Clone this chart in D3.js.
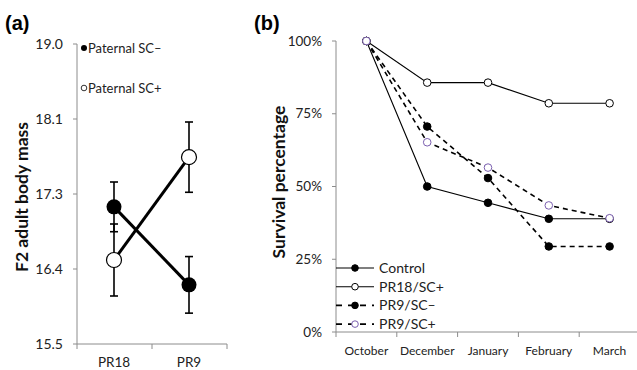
<!DOCTYPE html>
<html>
<head>
<meta charset="utf-8">
<script src="https://cdn.jsdelivr.net/npm/d3@7"></script>
<style>
  body { margin: 0; background: #fff; }
  svg text { font-family: Lato, "Open Sans", sans-serif; }
</style>
</head>
<body>
<svg id="chart" width="637" height="370"></svg>
<script>
// ---- panel (a) data ----
const groupsA = ["PR18", "PR9"];
const ticksA = [15.5, 16.375, 17.25, 18.125, 19.0];
const scMinusMean = [17.10, 16.19];
const scMinusErr = [0.29, 0.33];
const scPlusMean = [16.48, 17.68];
const scPlusErr = [0.42, 0.41];

// ---- panel (b) data ----
const months = ["October", "December", "January", "February", "March"];
const controlVals = [100, 50.0, 44.4, 38.9, 38.9];
const pr18Vals = [100, 85.7, 85.7, 78.6, 78.6];
const pr9MinusVals = [100, 70.6, 52.9, 29.4, 29.4];
const pr9PlusVals = [100, 65.2, 56.5, 43.5, 39.1];
const ticksB = [0, 25, 50, 75, 100];

const svg = d3.select("#chart");
const axisCol = "#8c8c8c";

// ================= panel (a) =================
const a = svg.append("g");
const xA = d3.scalePoint().domain(groupsA).range([114, 189]);
const yA = d3.scaleLinear().domain([15.5, 19.0]).range([344, 44]);

a.append("line").attr("x1", 77).attr("x2", 77).attr("y1", 44).attr("y2", 344)
  .attr("stroke", axisCol);
a.append("line").attr("x1", 77).attr("x2", 227).attr("y1", 344).attr("y2", 344)
  .attr("stroke", axisCol);
ticksA.forEach(t => {
  a.append("line").attr("x1", 73).attr("x2", 77).attr("y1", yA(t)).attr("y2", yA(t))
    .attr("stroke", axisCol);
  a.append("text").attr("x", 63).attr("y", yA(t)).attr("dy", "0.35em")
    .attr("text-anchor", "end").attr("font-size", 14).attr("fill", "#222")
    .text(t.toFixed(1));
});
[77, 152, 227].forEach(x => {
  a.append("line").attr("x1", x).attr("x2", x).attr("y1", 344).attr("y2", 349)
    .attr("stroke", axisCol);
});
groupsA.forEach(g => {
  a.append("text").attr("x", xA(g)).attr("y", 367).attr("text-anchor", "middle")
    .attr("font-size", 13.5).attr("fill", "#222").text(g);
});

// error bars
function errBars(means, errs) {
  means.forEach((m, i) => {
    const x = xA(groupsA[i]);
    a.append("line").attr("x1", x).attr("x2", x)
      .attr("y1", yA(m + errs[i])).attr("y2", yA(m - errs[i]))
      .attr("stroke", "#000").attr("stroke-width", 1.6);
    [m + errs[i], m - errs[i]].forEach(v => {
      a.append("line").attr("x1", x - 4).attr("x2", x + 4)
        .attr("y1", yA(v)).attr("y2", yA(v))
        .attr("stroke", "#000").attr("stroke-width", 1.6);
    });
  });
}
errBars(scMinusMean, scMinusErr);
errBars(scPlusMean, scPlusErr);

const lineA = d3.line().x((d, i) => xA(groupsA[i])).y(d => yA(d));
a.append("path").datum(scMinusMean).attr("d", lineA)
  .attr("fill", "none").attr("stroke", "#000").attr("stroke-width", 3);
a.append("path").datum(scPlusMean).attr("d", lineA)
  .attr("fill", "none").attr("stroke", "#000").attr("stroke-width", 3);

a.selectAll(".dm").data(scMinusMean).enter().append("circle")
  .attr("cx", (d, i) => xA(groupsA[i])).attr("cy", d => yA(d)).attr("r", 7.5)
  .attr("fill", "#000");
a.selectAll(".dp").data(scPlusMean).enter().append("circle")
  .attr("cx", (d, i) => xA(groupsA[i])).attr("cy", d => yA(d)).attr("r", 7.5)
  .attr("fill", "#fff").attr("stroke", "#000").attr("stroke-width", 1.2);

// legend (a)
a.append("circle").attr("cx", 84).attr("cy", 48).attr("r", 3).attr("fill", "#000");
a.append("text").attr("x", 88).attr("y", 48).attr("dy", "0.35em")
  .attr("font-size", 13).attr("fill", "#222").text("Paternal SC\u2013");
a.append("circle").attr("cx", 84).attr("cy", 88).attr("r", 2.8)
  .attr("fill", "#fff").attr("stroke", "#000").attr("stroke-width", 0.8);
a.append("text").attr("x", 88).attr("y", 88).attr("dy", "0.35em")
  .attr("font-size", 13).attr("fill", "#222").text("Paternal SC+");

a.append("text").attr("transform", "translate(22,197) rotate(-90)")
  .attr("text-anchor", "middle").attr("dy", "0.35em")
  .attr("font-size", 17.5).attr("font-weight", "bold").attr("fill", "#111")
  .text("F2 adult body mass");
a.append("text").attr("x", 5).attr("y", 30).attr("font-size", 20)
  .attr("font-weight", "bold").style("font-family", "Liberation Sans, Arial, sans-serif")
  .text("(a)");

// ================= panel (b) =================
const b = svg.append("g");
const xB = d3.scaleBand().domain(months).range([336, 640]);
const yB = d3.scaleLinear().domain([0, 100]).range([332, 41]);
const cx = m => xB(m) + xB.bandwidth() / 2;

b.append("line").attr("x1", 336).attr("x2", 336).attr("y1", 41).attr("y2", 332)
  .attr("stroke", axisCol);
b.append("line").attr("x1", 336).attr("x2", 640).attr("y1", 332).attr("y2", 332)
  .attr("stroke", axisCol);
ticksB.forEach(t => {
  b.append("line").attr("x1", 332).attr("x2", 336).attr("y1", yB(t)).attr("y2", yB(t))
    .attr("stroke", axisCol);
  b.append("text").attr("x", 322).attr("y", yB(t)).attr("dy", "0.35em")
    .attr("text-anchor", "end").attr("font-size", 13.5).attr("fill", "#222")
    .text(t + "%");
});
months.forEach(m => {
  b.append("line").attr("x1", xB(m)).attr("x2", xB(m)).attr("y1", 332).attr("y2", 337)
    .attr("stroke", axisCol);
  b.append("text").attr("x", cx(m)).attr("y", 355).attr("text-anchor", "middle")
    .attr("font-size", 12).attr("fill", "#222").text(m);
});
b.append("line").attr("x1", 639).attr("x2", 639).attr("y1", 332).attr("y2", 337)
  .attr("stroke", axisCol);

const purple = "#7b5fb0";
const seriesB = [
  { name: "Control", vals: controlVals, dash: null, fill: "#000", stroke: "#000" },
  { name: "PR18/SC+", vals: pr18Vals, dash: null, fill: "#fff", stroke: "#000" },
  { name: "PR9/SC\u2013", vals: pr9MinusVals, dash: "5,4", fill: "#000", stroke: "#000" },
  { name: "PR9/SC+", vals: pr9PlusVals, dash: "5,4", fill: "#fff", stroke: purple }
];

const lineB = d3.line().x((d, i) => cx(months[i])).y(d => yB(d));
seriesB.forEach(s => {
  b.append("path").datum(s.vals).attr("d", lineB).attr("fill", "none")
    .attr("stroke", "#000").attr("stroke-width", s.dash ? 1.6 : 1.1)
    .attr("stroke-dasharray", s.dash);
});
seriesB.forEach(s => {
  b.selectAll(null).data(s.vals).enter().append("circle")
    .attr("cx", (d, i) => cx(months[i])).attr("cy", d => yB(d)).attr("r", 3.8)
    .attr("fill", s.fill).attr("stroke", s.stroke).attr("stroke-width", 1);
});

// legend (b)
seriesB.forEach((s, i) => {
  const y = 268 + i * 18.7;
  b.append("line").attr("x1", 336).attr("x2", 374).attr("y1", y).attr("y2", y)
    .attr("stroke", "#000").attr("stroke-width", s.dash ? 1.6 : 1.1)
    .attr("stroke-dasharray", s.dash ? "6,6" : null);
  b.append("circle").attr("cx", 355).attr("cy", y).attr("r", 3.3)
    .attr("fill", s.fill).attr("stroke", s.stroke).attr("stroke-width", 1);
  b.append("text").attr("x", 379).attr("y", y).attr("dy", "0.35em")
    .attr("font-size", 14).attr("fill", "#222").text(s.name);
});

b.append("text").attr("transform", "translate(279,182) rotate(-90)")
  .attr("text-anchor", "middle").attr("dy", "0.35em")
  .attr("font-size", 17.5).attr("font-weight", "bold").attr("fill", "#111")
  .text("Survival percentage");
b.append("text").attr("x", 254).attr("y", 30).attr("font-size", 20)
  .attr("font-weight", "bold").style("font-family", "Liberation Sans, Arial, sans-serif")
  .text("(b)");
</script>
</body>
</html>
